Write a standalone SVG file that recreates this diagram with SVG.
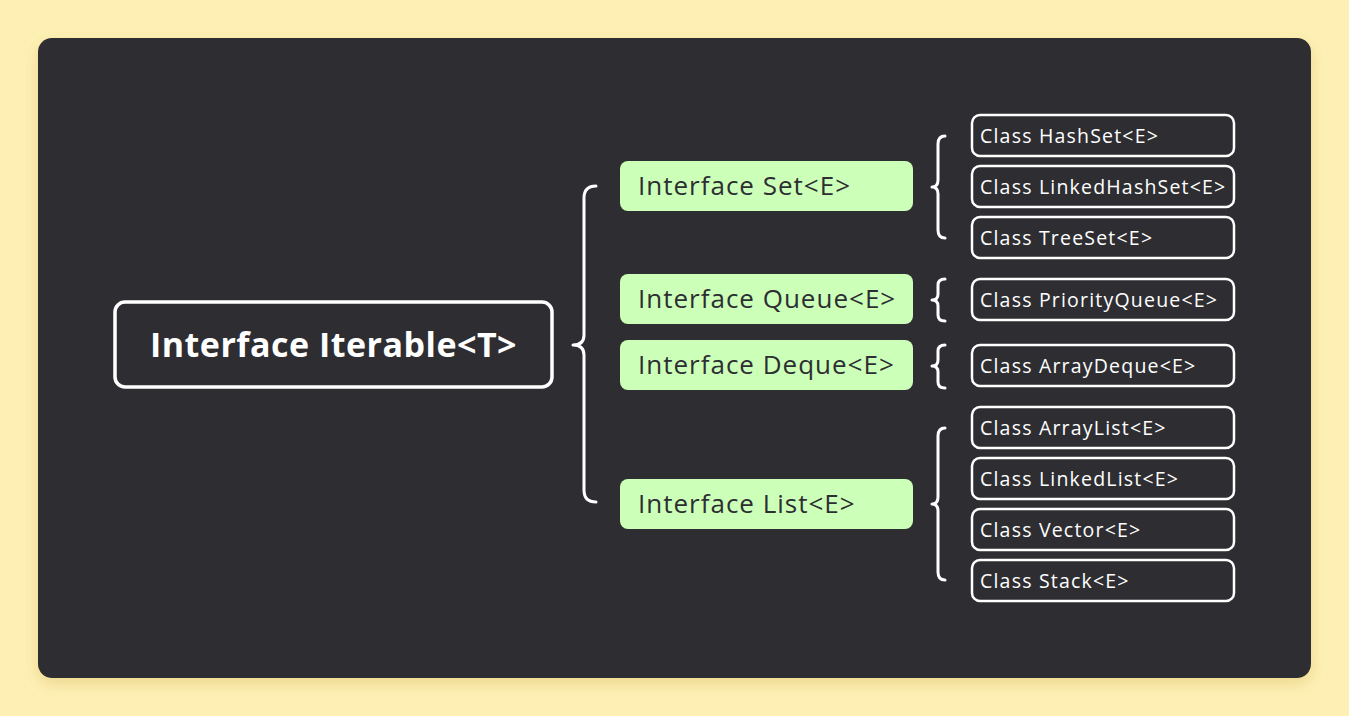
<svg xmlns="http://www.w3.org/2000/svg" width="1349" height="716" viewBox="0 0 1349 716">
<defs>
<filter id="sh" x="-10%" y="-10%" width="120%" height="130%"><feDropShadow dx="0" dy="6" stdDeviation="8" flood-color="#c9a84a" flood-opacity="0.35"/></filter>
</defs>
<style>
.root{fill:none;stroke:#fff;stroke-width:3.5}
.rt{font-family:"Open Sans",sans-serif;font-weight:700;font-size:34px;letter-spacing:0.5px;fill:#fff}
.iface{fill:#ccffb8}
.it{font-family:"Open Sans",sans-serif;font-size:26px;letter-spacing:1px;fill:#2d2e32}
.cls{fill:none;stroke:#fff;stroke-width:2.5}
.ct{font-family:"Open Sans",sans-serif;font-size:19.5px;letter-spacing:1.2px;fill:#fff}
.br{fill:none;stroke:#fff;stroke-width:3;stroke-linecap:round;stroke-linejoin:round}
</style>
<rect width="1349" height="716" fill="#fef0b5"/>
<rect x="38" y="38" width="1273" height="640" rx="14" fill="#2d2e32" filter="url(#sh)"/>
<g id="connectors">
<path class="br" d="M596,186 Q584,186 584,198 L584,335 Q584,345 573,345 Q584,345 584,355 L584,490 Q584,502 596,502"/>
<path class="br" d="M945,136 Q938,136 938,144 L938,180 Q938,187 932,187 Q938,187 938,194 L938,230 Q938,238 945,238"/>
<path class="br" d="M945,279 Q938,279 938,285 L938,294 Q938,300 932,300 Q938,300 938,306 L938,315 Q938,321 945,321"/>
<path class="br" d="M945,345 Q938,345 938,351 L938,360 Q938,366 932,366 Q938,366 938,372 L938,382 Q938,388 945,388"/>
<path class="br" d="M945,428 Q938,428 938,436 L938,497 Q938,504 932,504 Q938,504 938,511 L938,572 Q938,580 945,580"/>
</g>
<g id="root"><rect class="root" x="115" y="302" width="437" height="85" rx="10"/><text class="rt" x="333.5" y="357" text-anchor="middle">Interface Iterable&lt;T&gt;</text></g>
<g id="set"><rect class="iface" x="620" y="161" width="293" height="50" rx="8"/><text class="it" x="638" y="195">Interface Set&lt;E&gt;</text></g>
<g id="queue"><rect class="iface" x="620" y="274" width="293" height="50" rx="8"/><text class="it" x="638" y="308">Interface Queue&lt;E&gt;</text></g>
<g id="deque"><rect class="iface" x="620" y="340" width="293" height="50" rx="8"/><text class="it" x="638" y="374">Interface Deque&lt;E&gt;</text></g>
<g id="list"><rect class="iface" x="620" y="479" width="293" height="50" rx="8"/><text class="it" x="638" y="513">Interface List&lt;E&gt;</text></g>
<g id="hashset"><rect class="cls" x="972" y="115" width="262" height="41" rx="8"/><text class="ct" x="980" y="143">Class HashSet&lt;E&gt;</text></g>
<g id="linkedhashset"><rect class="cls" x="972" y="166" width="262" height="41" rx="8"/><text class="ct" x="980" y="194">Class LinkedHashSet&lt;E&gt;</text></g>
<g id="treeset"><rect class="cls" x="972" y="217" width="262" height="41" rx="8"/><text class="ct" x="980" y="245">Class TreeSet&lt;E&gt;</text></g>
<g id="priorityqueue"><rect class="cls" x="972" y="279" width="262" height="41" rx="8"/><text class="ct" x="980" y="307">Class PriorityQueue&lt;E&gt;</text></g>
<g id="arraydeque"><rect class="cls" x="972" y="345" width="262" height="41" rx="8"/><text class="ct" x="980" y="373">Class ArrayDeque&lt;E&gt;</text></g>
<g id="arraylist"><rect class="cls" x="972" y="407" width="262" height="41" rx="8"/><text class="ct" x="980" y="435">Class ArrayList&lt;E&gt;</text></g>
<g id="linkedlist"><rect class="cls" x="972" y="458" width="262" height="41" rx="8"/><text class="ct" x="980" y="486">Class LinkedList&lt;E&gt;</text></g>
<g id="vector"><rect class="cls" x="972" y="509" width="262" height="41" rx="8"/><text class="ct" x="980" y="537">Class Vector&lt;E&gt;</text></g>
<g id="stack"><rect class="cls" x="972" y="560" width="262" height="41" rx="8"/><text class="ct" x="980" y="588">Class Stack&lt;E&gt;</text></g>
</svg>
